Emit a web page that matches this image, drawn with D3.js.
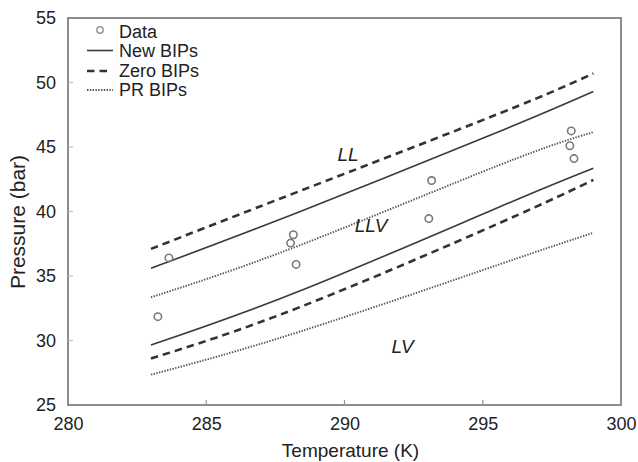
<!DOCTYPE html>
<html>
<head>
<style>
  body { margin: 0; background: #fff; }
  svg { font-family: "Liberation Sans", Arial, sans-serif; }
</style>
<script src="https://cdnjs.cloudflare.com/ajax/libs/d3/7.8.5/d3.min.js"></script>
</head>
<body>
<div id="chart"></div>
<script>
// model curves
const curveT = [283.0, 288.4, 295.6, 299.0];
const newUpper = [35.6, 40.0, 46.2, 49.3];
const zeroUpper = [37.1, 41.6, 47.6, 50.7];
const prUpper = [33.35, 37.4, 43.6, 46.15];
const newLower = [29.65, 33.85, 40.35, 43.35];
const zeroLower = [28.6, 32.6, 39.1, 42.45];
const prLower = [27.35, 30.7, 35.9, 38.35];

// experimental points
const dataT = [283.25, 283.65, 288.05, 288.15, 288.25, 293.05, 293.15, 298.15, 298.2, 298.3];
const dataP = [31.85, 36.4, 37.55, 38.2, 35.9, 39.45, 42.4, 45.1, 46.25, 44.1];

const xTicks = [280, 285, 290, 295, 300];
const yTicks = [25, 30, 35, 40, 45, 50, 55];
const regionLabels = ["LL", "LLV", "LV"];
const regionT = [290.13, 290.96, 292.1];
const regionP = [44.4, 38.9, 29.5];
const legendNames = ["Data", "New BIPs", "Zero BIPs", "PR BIPs"];

const W = 638, H = 462;
const m = {top: 18, right: 17, bottom: 57, left: 68};
const w = W - m.left - m.right, h = H - m.top - m.bottom;

const svg = d3.select("#chart").append("svg")
  .attr("width", W).attr("height", H);
const g = svg.append("g").attr("transform", `translate(${m.left},${m.top})`);

const x = d3.scaleLinear().domain([280, 300]).range([0, w]);
const y = d3.scaleLinear().domain([25, 55]).range([h, 0]);

// frame
g.append("rect").attr("width", w).attr("height", h)
  .attr("fill", "none").attr("stroke", "#808080").attr("stroke-width", 1.8);

// axes, inward ticks
const xAxis = g.append("g").attr("transform", `translate(0,${h})`)
  .call(d3.axisBottom(x).tickValues(xTicks).tickSize(0).tickPadding(14).tickFormat(d3.format("d")));
const yAxis = g.append("g")
  .call(d3.axisLeft(y).tickValues(yTicks).tickSize(0).tickPadding(12).tickFormat(d3.format("d")));
[xAxis, yAxis].forEach(a => {
  a.select(".domain").remove();
  a.selectAll("text").attr("font-size", 18).attr("fill", "#222")
    .attr("font-family", "Liberation Sans, Arial, sans-serif");
});
xAxis.selectAll("text").attr("dy", "0.6em");

g.selectAll(".xt").data(xTicks.slice(1, -1)).enter().append("line")
  .attr("x1", d => x(d)).attr("x2", d => x(d)).attr("y1", h).attr("y2", h - 5)
  .attr("stroke", "#999").attr("stroke-width", 1.2);
g.selectAll(".yt").data(yTicks.slice(1, -1)).enter().append("line")
  .attr("x1", 0).attr("x2", 5).attr("y1", d => y(d)).attr("y2", d => y(d))
  .attr("stroke", "#bbb").attr("stroke-width", 1.2);

// axis titles
svg.append("text").attr("x", m.left + w / 2 + 6).attr("y", 457)
  .attr("text-anchor", "middle").attr("font-size", 19).attr("fill", "#222")
  .text("Temperature (K)");
svg.append("text").attr("transform", `translate(25,222) rotate(-90)`)
  .attr("text-anchor", "middle").attr("font-size", 21).attr("fill", "#222")
  .text("Pressure (bar)");

const styles = {
  solid: {stroke: "#3a3a3a", width: 1.6, dash: null},
  dash: {stroke: "#333", width: 2.6, dash: "7.5,5"},
  dot: {stroke: "#555", width: 1.9, dash: "1.4,1.4"}
};
const series = [
  {v: newUpper, s: "solid"}, {v: newLower, s: "solid"},
  {v: zeroUpper, s: "dash"}, {v: zeroLower, s: "dash"},
  {v: prUpper, s: "dot"}, {v: prLower, s: "dot"}
];
const line = d3.line().x((d, i) => x(curveT[i])).y(d => y(d)).curve(d3.curveNatural);
series.forEach(se => {
  const st = styles[se.s];
  g.append("path").datum(se.v).attr("d", line)
    .attr("fill", "none").attr("stroke", st.stroke)
    .attr("stroke-width", st.width).attr("stroke-dasharray", st.dash);
});

// data circles
g.selectAll(".pt").data(dataT).enter().append("circle")
  .attr("cx", d => x(d)).attr("cy", (d, i) => y(dataP[i])).attr("r", 3.7)
  .attr("fill", "none").attr("stroke", "#7a7a7a").attr("stroke-width", 1.6);

// region labels
g.selectAll(".rl").data(regionLabels).enter().append("text")
  .attr("x", (d, i) => x(regionT[i])).attr("y", (d, i) => y(regionP[i]))
  .attr("text-anchor", "middle").attr("dominant-baseline", "central")
  .attr("font-size", 19).attr("font-style", "italic").attr("fill", "#222")
  .text(d => d);

// legend
const lg = svg.append("g");
const rowY = [31.5, 50.5, 71, 90];
legendNames.forEach((name, i) => {
  const yy = rowY[i];
  if (i === 0) {
    lg.append("circle").attr("cx", 100).attr("cy", yy - 1.5).attr("r", 3.2)
      .attr("fill", "none").attr("stroke", "#999").attr("stroke-width", 1.5);
  } else {
    const st = styles[["solid", "dash", "dot"][i - 1]];
    lg.append("line").attr("x1", 87).attr("x2", i === 2 ? 108 : 113)
      .attr("y1", yy).attr("y2", yy)
      .attr("stroke", st.stroke).attr("stroke-width", st.width)
      .attr("stroke-dasharray", st.dash);
  }
  lg.append("text").attr("x", 119).attr("y", yy).attr("dominant-baseline", "central")
    .attr("font-size", 18).attr("fill", "#222").text(name);
});
</script>
</body>
</html>
